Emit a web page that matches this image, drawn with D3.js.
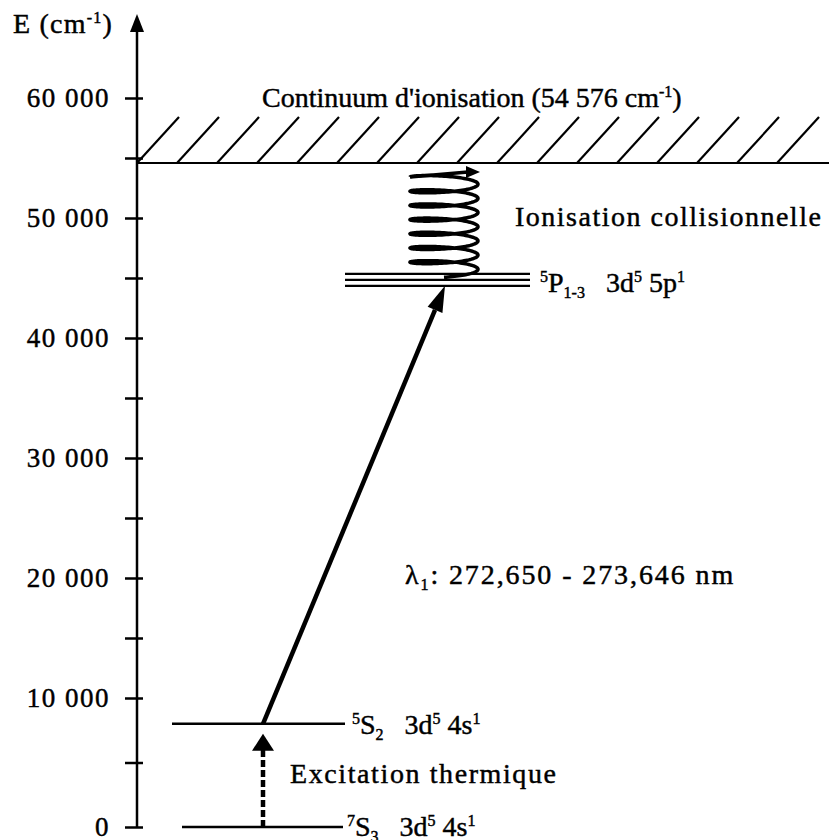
<!DOCTYPE html>
<html>
<head>
<meta charset="utf-8">
<script src="https://cdn.jsdelivr.net/npm/d3@7"></script>
<style>
  html, body { margin: 0; padding: 0; background: #fff; }
  svg text { font-family: "Liberation Serif", "Times New Roman", serif; fill: #000; stroke: #000; stroke-width: 0.45; white-space: pre; }
</style>
</head>
<body>
<svg id="chart" width="829" height="840"></svg>
<script>
// Energy levels of chromium (cm-1)
const groundLevels = [0, 8000];              // 7S3 and 5S2 (3d5 4s1)
const upperLevels = [44350, 44850, 45350];   // 5P1-3 (3d5 5p1)
const ionisationLimit = 54576;               // ionisation continuum

// Axis ticks
const majorTicks = [0, 10000, 20000, 30000, 40000, 50000, 60000];
const tickLabels = ["0", "10 000", "20 000", "30 000", "40 000", "50 000", "60 000"];
const minorTicks = [5000, 15000, 25000, 35000, 45000, 55000];

const svg = d3.select("#chart");
const axisX = 137;
const FS = 28, SUP = 16;

// Energy scale (slightly stretched near zero, as in the drawn diagram)
const y = d3.scaleLinear().domain([0, 10000, 60000]).range([827, 698, 98]);

// ---- Axis ----
const axis = d3.axisLeft(y)
  .tickValues(majorTicks.concat(minorTicks))
  .tickSizeInner(12)
  .tickSizeOuter(0)
  .tickPadding(15)
  .tickFormat(d => { const i = majorTicks.indexOf(d); return i >= 0 ? tickLabels[i] : ""; });

const gAxis = svg.append("g").attr("transform", `translate(${axisX},0)`).call(axis);
gAxis.select(".domain").remove();
gAxis.selectAll(".tick line").attr("x1", 6).attr("stroke", "#000").attr("stroke-width", 2.5);
gAxis.selectAll(".tick text")
  .attr("font-family", "Liberation Serif")
  .attr("font-size", 27)
  .attr("letter-spacing", 1.5)
  .attr("fill", "#000");

// Axis line with arrowhead
svg.append("line")
  .attr("x1", axisX).attr("x2", axisX)
  .attr("y1", y(0) + 1).attr("y2", 28)
  .attr("stroke", "#000").attr("stroke-width", 2.5);
svg.append("path")
  .attr("d", `M${axisX},14 L${axisX - 7},32 L${axisX + 7},32 Z`)
  .attr("fill", "#000");

// Axis title
const title = svg.append("text").attr("x", 13).attr("y", 33).attr("font-size", FS).attr("letter-spacing", 1.2);
title.append("tspan").text("E (cm");
title.append("tspan").attr("font-size", SUP).attr("dy", -10).text("-1");
title.append("tspan").attr("dy", 10).text(")");

// ---- Ionisation continuum ----
const yIon = y(ionisationLimit);
svg.append("line")
  .attr("x1", axisX).attr("x2", 829)
  .attr("y1", yIon).attr("y2", yIon)
  .attr("stroke", "#000").attr("stroke-width", 2);

svg.append("g").selectAll("line")
  .data(d3.range(17))
  .join("line")
  .attr("x1", i => axisX + i * 40)
  .attr("y1", yIon)
  .attr("x2", i => axisX + i * 40 + 42)
  .attr("y2", yIon - 46)
  .attr("stroke", "#000").attr("stroke-width", 2.2);

const fmt = d3.formatLocale({thousands: " ", grouping: [3], decimal: ","}).format(",");
const ionText = svg.append("text").attr("x", 262).attr("y", 107).attr("font-size", FS);
ionText.append("tspan").text(`Continuum d'ionisation (${fmt(ionisationLimit)} cm`);
ionText.append("tspan").attr("font-size", SUP).attr("dy", -10).text("-1");
ionText.append("tspan").attr("dy", 10).text(")");

// ---- Lower levels ----
const lowerSpans = [[182, 343], [172, 345]];
svg.append("g").selectAll("line")
  .data(groundLevels)
  .join("line")
  .attr("x1", (d, i) => lowerSpans[i][0])
  .attr("x2", (d, i) => lowerSpans[i][1])
  .attr("y1", d => y(d)).attr("y2", d => y(d))
  .attr("stroke", "#000").attr("stroke-width", 2.5);

// ---- Upper levels 5P1-3 ----
svg.append("g").selectAll("line")
  .data(upperLevels)
  .join("line")
  .attr("x1", 345).attr("x2", 530)
  .attr("y1", d => y(d)).attr("y2", d => y(d))
  .attr("stroke", "#000").attr("stroke-width", 2.2);

// ---- Laser excitation arrow (5S2 -> 5P) ----
const ax0 = 263, ay0 = y(groundLevels[1]);
const ax1 = 445, ay1 = y(upperLevels[0]);
const ang = Math.atan2(ay1 - ay0, ax1 - ax0);
const headLen = 26, headHalf = 8;
const bx = ax1 - headLen * Math.cos(ang), by = ay1 - headLen * Math.sin(ang);
svg.append("line")
  .attr("x1", ax0).attr("y1", ay0).attr("x2", bx).attr("y2", by)
  .attr("stroke", "#000").attr("stroke-width", 4.5);
svg.append("path")
  .attr("d", `M${ax1},${ay1} L${bx + headHalf * Math.sin(ang)},${by - headHalf * Math.cos(ang)} L${bx - headHalf * Math.sin(ang)},${by + headHalf * Math.cos(ang)} Z`)
  .attr("fill", "#000");

// ---- Thermal excitation (7S3 -> 5S2), dashed ----
const tipY = y(groundLevels[1]) + 10;
svg.append("line")
  .attr("x1", 263).attr("x2", 263)
  .attr("y1", y(groundLevels[0])).attr("y2", tipY + 16)
  .attr("stroke", "#000").attr("stroke-width", 4.5)
  .attr("stroke-dasharray", "7,3");
svg.append("path")
  .attr("d", `M263,${tipY} L252,${tipY + 17} L274,${tipY + 17} Z`)
  .attr("fill", "#000");

// ---- Collisional ionisation spring ----
const cx = 444, amp = 34, turns = 6.75;
const yBottom = y(upperLevels[2]) - 1, yTopCoil = yIon + 14;
const coil = d3.range(0, turns + 0.0001, 0.01).map(t => [
  cx + amp * Math.sin(2 * Math.PI * t),
  yBottom - (yBottom - yTopCoil) * t / turns + 4.5 * Math.cos(2 * Math.PI * t)
]);
svg.append("path")
  .attr("d", d3.line()(coil))
  .attr("fill", "none").attr("stroke", "#000").attr("stroke-width", 3.5);
const last = coil[coil.length - 1];
const springTip = [cx + amp + 2, yIon + 9];
svg.append("line")
  .attr("x1", last[0]).attr("y1", last[1])
  .attr("x2", springTip[0] - 12).attr("y2", springTip[1])
  .attr("stroke", "#000").attr("stroke-width", 3.5);
svg.append("path")
  .attr("d", `M${springTip[0]},${springTip[1]} L${springTip[0] - 14},${springTip[1] - 6} L${springTip[0] - 14},${springTip[1] + 6} Z`)
  .attr("fill", "#000");

svg.append("text").attr("x", 515).attr("y", 226).attr("font-size", FS)
  .attr("letter-spacing", 1.5).text("Ionisation collisionnelle");

// ---- Level labels ----
function levelLabel(x, yy, pre, letter, sub, config) {
  const t = svg.append("text").attr("x", x).attr("y", yy).attr("font-size", FS);
  t.append("tspan").attr("font-size", SUP).attr("dy", -10).text(pre);
  t.append("tspan").attr("dy", 10).text(letter);
  t.append("tspan").attr("font-size", SUP).attr("dy", 6).text(sub);
  t.append("tspan").attr("dy", -6).text("   3d");
  t.append("tspan").attr("font-size", SUP).attr("dy", -10).text("5");
  t.append("tspan").attr("dy", 10).text(" " + config);
  t.append("tspan").attr("font-size", SUP).attr("dy", -10).text("1");
}
levelLabel(540, 292, "5", "P", "1-3", "5p");
levelLabel(352, 734, "5", "S", "2", "4s");
levelLabel(347, 836, "7", "S", "3", "4s");

// Wavelength label
const lam = svg.append("text").attr("x", 405).attr("y", 584).attr("font-size", FS).attr("letter-spacing", 1.9);
lam.append("tspan").text("λ");
lam.append("tspan").attr("font-size", SUP).attr("dy", 6).text("1");
lam.append("tspan").attr("dy", -6).text(": 272,650 - 273,646 nm");

svg.append("text").attr("x", 290).attr("y", 783).attr("font-size", FS)
  .attr("letter-spacing", 1.6).text("Excitation thermique");
</script>
</body>
</html>
